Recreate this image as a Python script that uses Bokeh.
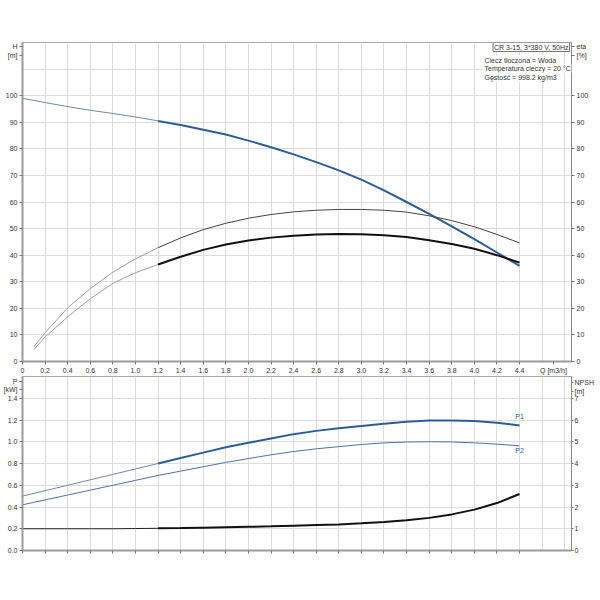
from bokeh.plotting import figure
from bokeh.models import Range1d, LinearAxis, FixedTicker, Label, Grid
from bokeh.layouts import column
from bokeh.embed import file_html
from bokeh.resources import INLINE

# ---------------- data ----------------
Q = [0.0, 0.2, 0.4, 0.6, 0.8, 1.0, 1.2, 1.4, 1.6, 1.8, 2.0, 2.2,
     2.4, 2.6, 2.8, 3.0, 3.2, 3.4, 3.6, 3.8, 4.0, 4.2, 4.4]
H = [99.0, 97.4, 95.9, 94.5, 93.3, 92.0, 90.5, 89.0, 87.2, 85.4, 83.1, 80.6,
     77.9, 75.0, 71.9, 68.4, 64.4, 60.0, 55.5, 50.8, 46.0, 41.0, 36.0]

Q_eta = [0.1, 0.2, 0.4, 0.6, 0.8, 1.0, 1.2, 1.4, 1.6, 1.8, 2.0, 2.2,
         2.4, 2.6, 2.8, 3.0, 3.2, 3.4, 3.6, 3.8, 4.0, 4.2, 4.4]
eta_pump = [5.5, 10.8, 20.2, 27.4, 33.6, 38.6, 42.8, 46.5, 49.6, 52.0, 53.9, 55.3,
            56.3, 56.9, 57.2, 57.2, 56.9, 56.2, 54.8, 53.0, 50.7, 47.8, 44.6]
eta_total = [4.5, 9.2, 16.8, 23.6, 29.4, 33.4, 36.5, 39.4, 42.0, 44.0, 45.5, 46.6,
             47.3, 47.8, 48.0, 47.9, 47.5, 46.8, 45.6, 44.2, 42.4, 40.0, 37.2]

P1 = [0.50, 0.55, 0.60, 0.65, 0.70, 0.75, 0.80, 0.85, 0.90, 0.95, 0.99, 1.03,
      1.07, 1.10, 1.125, 1.145, 1.165, 1.185, 1.195, 1.195, 1.19, 1.175, 1.15]
P2 = [0.42, 0.465, 0.51, 0.555, 0.60, 0.645, 0.69, 0.73, 0.77, 0.81, 0.845, 0.88,
      0.91, 0.935, 0.955, 0.975, 0.99, 0.997, 1.0, 0.998, 0.99, 0.978, 0.963]
NPSH = [1.00, 1.00, 1.00, 1.00, 1.00, 1.01, 1.02, 1.03, 1.05, 1.07, 1.09, 1.11,
        1.14, 1.17, 1.20, 1.25, 1.31, 1.39, 1.50, 1.66, 1.88, 2.18, 2.60]

x_ticks = [round(i * 0.2, 1) for i in range(23)]
x_grid = [round(i * 0.2, 1) for i in range(25)]
h_ticks = list(range(0, 101, 10))
h_grid = list(range(0, 121, 10))
p_ticks = [round(i * 0.2, 1) for i in range(8)]
p_grid = [round(i * 0.2, 1) for i in range(9)]
npsh_ticks = list(range(0, 8))

info_title = "CR 3-15, 3*380 V, 50Hz"
info_lines = ["Ciecz tłoczona = Woda", "Temperatura cieczy = 20 °C", "Gęstość = 998.2 kg/m3"]

FONT = "Liberation Sans"
FS = "7px"
TXT = "#333333"
BLUE = "#2c5d99"
BLUE_THIN = "#7088ad"
SPLIT = 1.2
XMAX = 4.86
FW = 549


def style_axis(ax, width=2, color="#9a9a9a", out=3, standoff=2):
    ax.axis_line_color = color
    ax.axis_line_width = width
    ax.major_tick_line_color = "#777777"
    ax.major_tick_out = out
    ax.major_tick_in = 0
    ax.minor_tick_line_color = None
    ax.major_label_standoff = standoff
    ax.major_label_text_font = FONT
    ax.major_label_text_font_size = FS
    ax.major_label_text_color = TXT


def add_grids(p, xt, yt):
    for dim, t in ((0, xt), (1, yt)):
        p.add_layout(Grid(dimension=dim, ticker=FixedTicker(ticks=t),
                          grid_line_color="#dddddd", grid_line_width=1), "center")


def split(xs, ys, lo=True):
    pts = [(a, b) for a, b in zip(xs, ys) if (a <= SPLIT if lo else a >= SPLIT)]
    return [a for a, _ in pts], [b for _, b in pts]


def fmt1(t):
    return f"{t:.1f}"


# ---------------- top figure ----------------
p1 = figure(frame_width=FW, frame_height=319, min_border_top=42, min_border_left=20,
            min_border_right=23, min_border_bottom=0, x_range=Range1d(0, XMAX),
            y_range=Range1d(0, 120), output_backend="svg", toolbar_location=None,
            y_axis_location=None, x_axis_location=None)
p1.extra_y_ranges = {"eta": Range1d(0, 120)}
p1.outline_line_color = "#aaaaaa"
add_grids(p1, x_grid, h_grid)

ly = LinearAxis(ticker=FixedTicker(ticks=h_ticks + [118.4, 115.0]))
style_axis(ly)
ly.major_label_overrides = {118.4: "H", 115.0: "[m]"}
p1.add_layout(ly, "left")
ry = LinearAxis(y_range_name="eta", ticker=FixedTicker(ticks=h_ticks + [118.4, 115.0]))
style_axis(ry, width=1, color="#888888")
ry.major_label_overrides = {118.4: "eta", 115.0: "[%]"}
p1.add_layout(ry, "right")
bx = LinearAxis(ticker=FixedTicker(ticks=x_ticks + [4.7]))
style_axis(bx)
ov = {t: ("0" if t == 0 else fmt1(t)) for t in x_ticks}
ov[4.7] = "Q [m3/h]"
bx.major_label_overrides = ov
p1.add_layout(bx, "below")

# H curve
xa, ya = split(Q, H, True)
p1.line(xa, ya, line_color=BLUE_THIN, line_width=1)
xa, ya = split(Q, H, False)
p1.line(xa, ya, line_color=BLUE, line_width=2)
# efficiency curves
xa, ya = split(Q_eta, eta_pump, True)
p1.line(xa, ya, line_color="#a0a0a0", line_width=1, y_range_name="eta")
xa, ya = split(Q_eta, eta_pump, False)
p1.line(xa, ya, line_color="#444444", line_width=1, y_range_name="eta")
xa, ya = split(Q_eta, eta_total, True)
p1.line(xa, ya, line_color="#a0a0a0", line_width=1, y_range_name="eta")
xa, ya = split(Q_eta, eta_total, False)
p1.line(xa, ya, line_color="#111111", line_width=2, y_range_name="eta")

# info box
p1.add_layout(Label(x=XMAX, y=120, x_offset=-2, y_offset=0, text=info_title,
                    text_align="right", text_baseline="top", text_font=FONT,
                    text_font_size=FS, text_color=TXT, border_line_color="#777777",
                    border_line_width=1, background_fill_color="white", padding=1))
for i, t in enumerate(info_lines):
    p1.add_layout(Label(x=XMAX, y=120, x_offset=-88, y_offset=-13 - 8.5 * i, text=t,
                        text_align="left", text_baseline="top", text_font=FONT,
                        text_font_size=FS, text_color=TXT,
                        background_fill_color="white", padding=1))

# ---------------- bottom figure ----------------
p2 = figure(frame_width=FW, frame_height=174, min_border_top=0, min_border_left=20,
            min_border_right=23, min_border_bottom=8, x_range=p1.x_range,
            y_range=Range1d(0, 1.6), output_backend="svg", toolbar_location=None,
            y_axis_location=None, x_axis_location=None)
p2.extra_y_ranges = {"npsh": Range1d(0, 8)}
p2.outline_line_color = "#aaaaaa"
add_grids(p2, x_grid, p_grid)

ly2 = LinearAxis(ticker=FixedTicker(ticks=p_ticks + [1.555, 1.477]))
style_axis(ly2)
ov2 = {t: fmt1(t) for t in p_ticks}
ov2[1.555] = "P"
ov2[1.477] = "[kW]"
ly2.major_label_overrides = ov2
p2.add_layout(ly2, "left")
ry2 = LinearAxis(y_range_name="npsh", ticker=FixedTicker(ticks=npsh_ticks + [7.73, 7.31]))
style_axis(ry2, width=1, color="#888888", out=2, standoff=1)
ry2.major_label_overrides = {7.73: "NPSH", 7.31: "[m]"}
p2.add_layout(ry2, "right")
bx2 = LinearAxis(ticker=FixedTicker(ticks=x_ticks))
style_axis(bx2)
bx2.major_label_overrides = {t: "" for t in x_ticks}
bx2.major_label_standoff = 0
p2.add_layout(bx2, "below")

xa, ya = split(Q, P1, True)
p2.line(xa, ya, line_color=BLUE_THIN, line_width=1)
xa, ya = split(Q, P1, False)
p2.line(xa, ya, line_color=BLUE, line_width=2)
p2.line(Q, P2, line_color="#4f73a3", line_width=1)
xa, ya = split(Q, NPSH, True)
p2.line(xa, ya, line_color="#222222", line_width=1, y_range_name="npsh")
xa, ya = split(Q, NPSH, False)
p2.line(xa, ya, line_color="#111111", line_width=2, y_range_name="npsh")

for name, val, yo in (("P1", P1[-1], 12), ("P2", P2[-1], -1)):
    p2.add_layout(Label(x=Q[-1], y=val, text=name, x_offset=0, y_offset=yo,
                        text_align="center", text_baseline="top", text_font=FONT,
                        text_font_size=FS, text_color=BLUE))

layout = column(p1, p2, spacing=0)
open("out.html", "w").write(file_html(layout, INLINE))
